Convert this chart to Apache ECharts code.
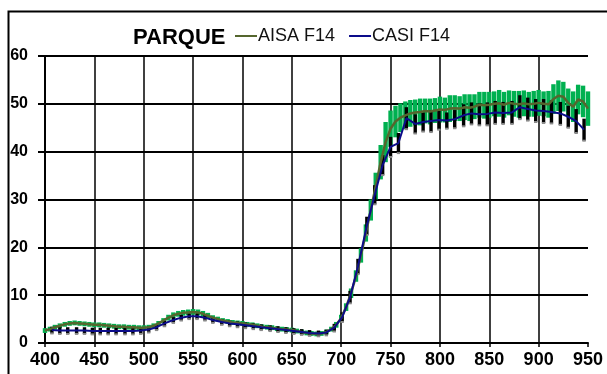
<!DOCTYPE html>
<html>
<head>
<meta charset="utf-8">
<script src="https://cdn.jsdelivr.net/npm/echarts@6/dist/echarts.min.js"></script>
<style>
  html, body { margin: 0; padding: 0; background: #fff; }
  #chart { width: 607px; height: 374px; }
</style>
</head>
<body>
<div id="chart"></div>
<script>
// AISA F14 (every 5 nm)
const aisaWl = [400, 405, 410, 415, 420, 425, 430, 435, 440, 445, 450, 455, 460, 465, 470, 475, 480, 485, 490, 495,
  500, 505, 510, 515, 520, 525, 530, 535, 540, 545, 550, 555, 560, 565, 570, 575, 580, 585, 590, 595,
  600, 605, 610, 615, 620, 625, 630, 635, 640, 645, 650, 655, 660, 665, 670, 675, 680, 685, 690, 695,
  700, 705, 710, 715, 720, 725, 730, 735, 740, 745, 750, 755, 760, 765, 770, 775, 780, 785, 790, 795,
  800, 805, 810, 815, 820, 825, 830, 835, 840, 845, 850, 855, 860, 865, 870, 875, 880, 885, 890, 895,
  900, 905, 910, 915, 920, 925, 930, 935, 940, 945, 950];
const aisaVal = [2.6, 2.9, 3.3, 3.6, 3.9, 4.1, 4.2, 4.1, 4.0, 3.9, 3.8, 3.8, 3.7, 3.6, 3.5, 3.4, 3.4, 3.3, 3.3, 3.2,
  3.2, 3.3, 3.6, 4.1, 4.7, 5.3, 5.8, 6.1, 6.3, 6.4, 6.5, 6.4, 6.1, 5.7, 5.3, 5.0, 4.7, 4.5, 4.3, 4.2,
  4.1, 3.9, 3.8, 3.6, 3.4, 3.3, 3.2, 3.0, 2.9, 2.8, 2.7, 2.5, 2.3, 2.1, 2.0, 1.9, 2.0, 2.3, 2.9, 3.8,
  5.2, 7.5, 10.4, 14.0, 18.3, 23.0, 27.8, 32.8, 37.8, 42.0, 44.8, 46.3, 47.1, 47.6, 48.0, 48.2, 48.3, 48.5, 48.4, 48.6,
  48.8, 48.7, 49.0, 49.1, 49.0, 49.3, 49.2, 49.4, 49.8, 49.7, 49.8, 50.0, 50.1, 49.8, 50.2, 50.0, 49.9, 50.1, 49.9, 50.0,
  50.2, 50.0, 49.9, 51.0, 51.7, 51.5, 50.2, 49.4, 50.9, 50.5, 49.0];
const aisaErr = [0.5, 0.5, 0.5, 0.5, 0.5, 0.5, 0.5, 0.5, 0.5, 0.5, 0.5, 0.5, 0.5, 0.5, 0.5, 0.5, 0.5, 0.5, 0.5, 0.5,
  0.5, 0.5, 0.5, 0.5, 0.5, 0.6, 0.6, 0.6, 0.6, 0.6, 0.6, 0.6, 0.6, 0.6, 0.5, 0.5, 0.5, 0.5, 0.5, 0.5,
  0.5, 0.5, 0.5, 0.5, 0.5, 0.5, 0.5, 0.5, 0.5, 0.5, 0.5, 0.5, 0.5, 0.5, 0.5, 0.5, 0.5, 0.5, 0.5, 0.6,
  0.7, 0.8, 1.0, 1.2, 1.5, 1.8, 2.2, 2.8, 3.6, 4.2, 3.8, 3.3, 3.0, 2.9, 2.8, 2.7, 2.8, 2.6, 2.7, 2.6,
  2.7, 2.6, 2.8, 2.7, 2.6, 2.7, 2.8, 2.6, 2.7, 2.8, 2.7, 2.6, 2.8, 2.7, 2.6, 2.7, 2.8, 2.7, 2.6, 2.7,
  2.7, 2.6, 2.8, 3.1, 3.2, 3.1, 3.0, 3.2, 3.1, 3.3, 3.6];

// CASI F14
const casiWl = [407, 415, 423, 432, 440, 448, 456, 464, 472, 481, 489, 497,
  505, 513, 521, 530, 538, 546, 554, 562, 570, 579, 587, 595, 603, 611, 619, 628, 636, 644, 652, 660, 668, 677, 685, 693,
  701, 709, 717, 726, 734, 742, 750, 758, 766, 775, 783, 791, 799, 807, 815, 824, 832, 840, 848, 856, 864, 873,
  881, 889, 897, 905, 913, 922, 930, 938, 946];
const casiVal = [2.7, 2.6, 2.6, 2.6, 2.6, 2.5, 2.5, 2.5, 2.5, 2.5, 2.5, 2.6,
  2.8, 3.3, 4.1, 4.8, 5.3, 5.6, 5.6, 5.3, 4.8, 4.4, 4.1, 3.9, 3.7, 3.5, 3.3, 3.1, 2.9, 2.7, 2.5, 2.3, 2.1, 2.0, 2.2, 3.2,
  5.4, 9.6, 16.0, 24.5, 31.0, 37.2, 41.0, 41.8, 47.0, 45.8, 46.2, 46.4, 46.6, 46.5, 46.8, 47.6, 48.0, 47.8, 47.9, 48.2, 48.1, 48.2,
  49.3, 48.9, 48.6, 48.5, 48.3, 48.0, 47.3, 46.4, 44.6];
const casiErr = [0.7, 0.7, 0.7, 0.7, 0.7, 0.7, 0.7, 0.7, 0.7, 0.7, 0.7, 0.7,
  0.6, 0.6, 0.6, 0.6, 0.6, 0.6, 0.6, 0.6, 0.6, 0.6, 0.6, 0.6, 0.6, 0.6, 0.6, 0.6, 0.6, 0.6, 0.6, 0.6, 0.6, 0.6, 0.6, 0.8,
  1.0, 1.3, 1.6, 1.9, 2.0, 2.1, 2.1, 2.1, 2.3, 2.0, 2.0, 2.3, 2.0, 1.7, 1.9, 2.3, 2.3, 2.3, 2.4, 2.4, 2.3, 2.4,
  2.5, 2.4, 2.4, 2.5, 2.4, 2.4, 2.3, 2.5, 2.3];

const xTicks = { min: 400, max: 950, step: 50 };
const yTicks = { min: 0, max: 60, step: 10 };

const FONT = '"Liberation Sans", Arial, sans-serif';

function errorBars(wl, val, err) {
  return wl.map((w, i) => [w, val[i] - err[i], val[i] + err[i]]);
}

function barRenderer(width, color, capColor) {
  return function (params, api) {
    const top = api.coord([api.value(0), api.value(2)]);
    const bot = api.coord([api.value(0), api.value(1)]);
    const children = [{
      type: 'rect',
      shape: { x: top[0] - width / 2, y: top[1], width: width, height: bot[1] - top[1] },
      style: { fill: color }
    }];
    if (capColor) {
      children.push({
        type: 'rect',
        shape: { x: top[0] - width / 2, y: bot[1] - 1, width: width, height: 2 },
        style: { fill: capColor }
      });
    }
    return { type: 'group', children: children };
  };
}

const chart = echarts.init(document.getElementById('chart'));

chart.setOption({
  animation: false,
  backgroundColor: '#fff',
  graphic: [{
    type: 'rect',
    left: 6, top: 9,
    shape: { width: 700, height: 420 },
    style: { fill: 'none', stroke: '#000', lineWidth: 2 },
    z: 100
  }],
  title: {
    text: 'PARQUE',
    left: 128, top: 22,
    textStyle: { fontFamily: FONT, fontWeight: 'bold', fontSize: 22, color: '#000' }
  },
  legend: {
    data: ['AISA F14', 'CASI F14'],
    left: 230, top: 22,
    icon: 'rect',
    itemWidth: 22, itemHeight: 2,
    itemGap: 14,
    textStyle: { fontFamily: FONT, fontSize: 18, color: '#111', padding: [0, 0, 0, -4] }
  },
  grid: { left: 45, top: 56, right: 19, bottom: 31 },
  xAxis: {
    type: 'value',
    min: xTicks.min, max: xTicks.max, interval: xTicks.step,
    axisLine: { lineStyle: { color: '#000', width: 2 } },
    axisTick: { show: true, length: 4, lineStyle: { color: '#000', width: 1.5 } },
    axisLabel: { margin: 8, fontFamily: FONT, fontWeight: 'bold', fontSize: 18, color: '#000' },
    splitLine: { show: true, showMaxLine: false, lineStyle: { color: '#000', width: 1.5 } }
  },
  yAxis: {
    type: 'value',
    min: yTicks.min, max: yTicks.max, interval: yTicks.step,
    axisLine: { show: true, lineStyle: { color: '#000', width: 2 } },
    axisTick: { show: true, length: 7, lineStyle: { color: '#000', width: 2 } },
    axisLabel: { margin: 17, fontFamily: FONT, fontWeight: 'bold', fontSize: 16, color: '#000' },
    splitLine: { show: true, lineStyle: { color: '#000', width: 2 } }
  },
  series: [
    {
      name: 'AISA err',
      type: 'custom',
      renderItem: barRenderer(4.4, '#00b050'),
      encode: { x: 0, y: [1, 2] },
      data: errorBars(aisaWl, aisaVal, aisaErr),
      z: 2
    },
    {
      name: 'CASI err',
      type: 'custom',
      renderItem: barRenderer(3.4, '#000', '#8a8a8a'),
      encode: { x: 0, y: [1, 2] },
      data: errorBars(casiWl, casiVal, casiErr),
      z: 3
    },
    {
      name: 'AISA F14',
      type: 'line',
      data: aisaWl.map((w, i) => [w, aisaVal[i]]),
      showSymbol: false,
      symbol: 'none',
      color: '#55662e',
      lineStyle: { color: '#55662e', width: 2.5 },
      z: 4
    },
    {
      name: 'CASI F14',
      type: 'line',
      data: casiWl.map((w, i) => [w, casiVal[i]]),
      showSymbol: false,
      symbol: 'none',
      color: '#0c0c8a',
      lineStyle: { color: '#0c0c8a', width: 2 },
      z: 5
    }
  ]
});
</script>
</body>
</html>
